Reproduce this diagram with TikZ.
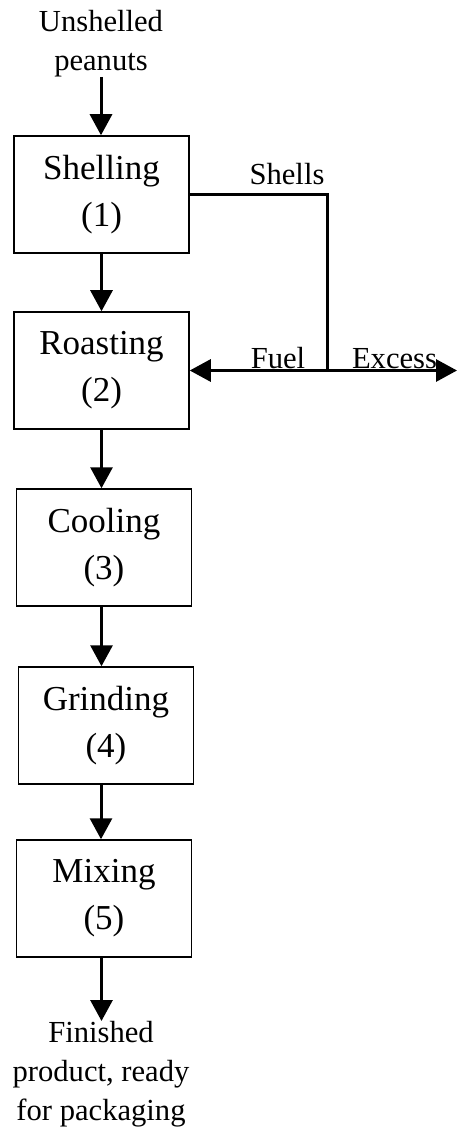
\documentclass[tikz,border=0pt]{standalone}
\usepackage{fontspec}
\setmainfont{Liberation Serif}
\usetikzlibrary{arrows.meta}
\begin{document}
\begin{tikzpicture}[x=0.5pt,y=-0.5pt,
  procbox/.style={draw, line width=0.75pt, minimum width=87.5pt, minimum height=58.5pt, inner sep=0pt, align=center, font=\fontsize{17.5}{23.5}\selectfont},
  lbl/.style={inner sep=0pt, align=center, font=\fontsize{15.3}{19.5}\selectfont},
  flow/.style={line width=1.5pt, -{Triangle[width=11pt,length=10.5pt]}},
  pipe/.style={line width=1.5pt}]
\useasboundingbox (0,0) rectangle (457,1128);
\node[lbl, anchor=south] (in) at (101,77) {Unshelled\\peanuts};
\node[procbox] (s1) at (101.5,194.5) {Shelling\\(1)};
\node[procbox] (s2) at (101.5,370.5) {Roasting\\(2)};
\node[procbox] (s3) at (104,547.5) {Cooling\\(3)};
\node[procbox] (s4) at (106,725.5) {Grinding\\(4)};
\node[procbox] (s5) at (104,898.5) {Mixing\\(5)};
\node[lbl, anchor=north] (out) at (101,1021) {Finished\\product, ready\\for packaging};
\coordinate (j) at (327,370.5);
\coordinate (ex) at (457,370.5);
\draw[flow] (in.south) -- (in.south |- s1.north);
\draw[flow] (s1.south) -- (s1.south |- s2.north);
\draw[flow] (s2.south) -- (s2.south |- s3.north);
\draw[flow] (s3.south -| s1.south) -- (s4.north -| s1.south);
\draw[flow] (s4.south -| in.south) -- (s5.north -| in.south);
\draw[flow] (s5.south -| s1.south) -- (out.north -| s1.south);
\draw[pipe] (s1.east) -- (s1.east -| j) -- (j);
\draw[flow] (j) -- (s2.east);
\draw[flow] (j) -- (ex);
\node[lbl, anchor=base] (shl) at (287,185) {Shells};
\node[lbl, anchor=base] (fl) at (278,368) {Fuel};
\node[lbl, anchor=base] (exl) at (394.5,368) {Excess};
\end{tikzpicture}
\end{document}
